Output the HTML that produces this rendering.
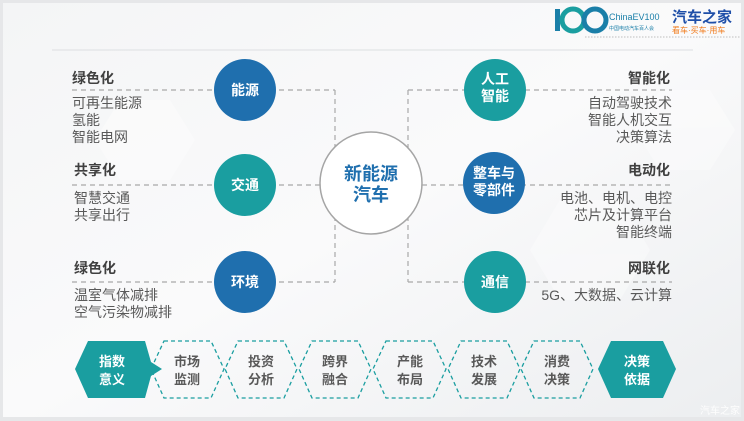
<!DOCTYPE html>
<html><head><meta charset="utf-8"><style>
body{margin:0;width:744px;height:421px;overflow:hidden;background:#fff}
svg{display:block}
text{font-family:"Liberation Sans","Noto Sans CJK SC",sans-serif}
</style></head><body>
<svg width="744" height="421" viewBox="0 0 744 421" xmlns="http://www.w3.org/2000/svg">
<defs>
<linearGradient id="bg" x1="0" y1="0" x2="1" y2="1">
<stop offset="0" stop-color="#f4f5f6"/><stop offset="0.5" stop-color="#fafafb"/><stop offset="1" stop-color="#eceef0"/>
</linearGradient>
</defs>
<rect x="0" y="0" width="744" height="421" fill="#e6e7e9"/>
<rect x="3" y="3" width="738" height="414" fill="url(#bg)"/>
<g fill="#ffffff" opacity="0.35">
<polygon points="120,100 170,100 195,140 170,180 120,180 95,140"/>
<polygon points="560,200 620,200 650,250 620,300 560,300 530,250"/>
<polygon points="660,90 710,90 735,130 710,170 660,170 635,130"/>
</g>
<!-- logo -->
<rect x="555" y="9" width="5" height="22" fill="#1a7fa8"/>
<circle cx="573" cy="20" r="11" fill="none" stroke="#1a9ea0" stroke-width="5"/>
<circle cx="595" cy="20" r="11" fill="none" stroke="#1a7fa8" stroke-width="5"/>
<text x="609" y="20" font-size="9" fill="#1a7fa8">ChinaEV100</text>
<text x="609" y="30" font-size="5" fill="#1a7fa8">中国电动汽车百人会</text>
<text x="672" y="22" font-size="15" font-weight="bold" fill="#1f4fa8">汽车之家</text>
<text x="672" y="33" font-size="8" fill="#f07a1a">看车·买车·用车</text>
<line x1="585" y1="37" x2="740" y2="37" stroke="#aaa" stroke-width="0.8" stroke-dasharray="1.5,1.5"/>
<line x1="52" y1="50" x2="693" y2="50" stroke="#e2e4e6" stroke-width="1.2"/>
<g stroke="#a9a9a9" stroke-width="1.2" stroke-dasharray="5,4" fill="none">
<line x1="72" y1="90" x2="335" y2="90"/>
<line x1="72" y1="185" x2="320" y2="185"/>
<line x1="72" y1="282" x2="335" y2="282"/>
<line x1="335" y1="90" x2="335" y2="282"/>
<line x1="408" y1="90" x2="672" y2="90"/>
<line x1="422" y1="185" x2="672" y2="185"/>
<line x1="408" y1="282" x2="672" y2="282"/>
<line x1="408" y1="90" x2="408" y2="282"/>
</g>
<circle cx="371" cy="183" r="51" fill="#fff" stroke="#a5a5a5" stroke-width="1.5"/>
<text x="371" y="180" font-size="18" font-weight="bold" fill="#1f6fae" text-anchor="middle">新能源</text>
<text x="371" y="201" font-size="18" font-weight="bold" fill="#1f6fae" text-anchor="middle">汽车</text>
<g font-size="14" font-weight="bold" fill="#fff" text-anchor="middle">
<circle cx="245" cy="90" r="31" fill="#1f6fae"/><text x="245" y="95" fill="#fff">能源</text>
<circle cx="245" cy="185" r="31" fill="#1a9ea0"/><text x="245" y="190" fill="#fff">交通</text>
<circle cx="245" cy="282" r="31" fill="#1f6fae"/><text x="245" y="287" fill="#fff">环境</text>
<circle cx="495" cy="90" r="31" fill="#1a9ea0"/><text x="495" y="84" fill="#fff">人工</text><text x="495" y="101" fill="#fff">智能</text>
<circle cx="494" cy="183" r="31" fill="#1f6fae"/><text x="494" y="178" fill="#fff">整车与</text><text x="494" y="195" fill="#fff">零部件</text>
<circle cx="495" cy="282" r="31" fill="#1a9ea0"/><text x="495" y="287" fill="#fff">通信</text>
</g>
<g font-size="14" fill="#595959">
<text x="72" y="83" font-weight="bold" fill="#404040">绿色化</text>
<text x="72" y="108">可再生能源</text><text x="72" y="125">氢能</text><text x="72" y="142">智能电网</text>
<text x="74" y="175" font-weight="bold" fill="#404040">共享化</text>
<text x="74" y="203">智慧交通</text><text x="74" y="220">共享出行</text>
<text x="74" y="273" font-weight="bold" fill="#404040">绿色化</text>
<text x="74" y="300">温室气体减排</text><text x="74" y="317">空气污染物减排</text>
</g>
<g font-size="14" fill="#595959" text-anchor="end">
<text x="670" y="83" font-weight="bold" fill="#404040">智能化</text>
<text x="672" y="108">自动驾驶技术</text><text x="672" y="125">智能人机交互</text><text x="672" y="142">决策算法</text>
<text x="670" y="175" font-weight="bold" fill="#404040">电动化</text>
<text x="672" y="203">电池、电机、电控</text><text x="672" y="220">芯片及计算平台</text><text x="672" y="237">智能终端</text>
<text x="670" y="273" font-weight="bold" fill="#404040">网联化</text>
<text x="672" y="300">5G、大数据、云计算</text>
</g>
<polygon points="88,341 145,341 151,362 162,369 151,376 145,398 88,398 75,369" fill="#1a9ea0"/>
<text x="112" y="366" font-size="13" font-weight="bold" fill="#fff" text-anchor="middle">指数</text>
<text x="112" y="384" font-size="13" font-weight="bold" fill="#fff" text-anchor="middle">意义</text>
<g fill="none" stroke="#1a9ea0" stroke-width="1.3" stroke-dasharray="4,3">
<polygon points="164,341 211,341 224,369 211,398 164,398 151,369"/>
<polygon points="238,341 284,341 297,369 284,398 238,398 225,369"/>
<polygon points="312,341 358,341 371,369 358,398 312,398 299,369"/>
<polygon points="386,341 433,341 446,369 433,398 386,398 373,369"/>
<polygon points="461,341 507,341 520,369 507,398 461,398 448,369"/>
<polygon points="534,341 580,341 593,369 580,398 534,398 521,369"/>
</g>
<polygon points="611,341 663,341 676,369 663,398 611,398 598,369" fill="#1a9ea0"/>
<g font-size="13" font-weight="bold" fill="#595959" text-anchor="middle">
<text x="187" y="366">市场</text><text x="187" y="384">监测</text>
<text x="261" y="366">投资</text><text x="261" y="384">分析</text>
<text x="335" y="366">跨界</text><text x="335" y="384">融合</text>
<text x="410" y="366">产能</text><text x="410" y="384">布局</text>
<text x="484" y="366">技术</text><text x="484" y="384">发展</text>
<text x="557" y="366">消费</text><text x="557" y="384">决策</text>
<text x="637" y="366" fill="#fff">决策</text><text x="637" y="384" fill="#fff">依据</text>
</g>
<text x="740" y="414" font-size="10" fill="#fff" text-anchor="end" opacity="0.9">汽车之家</text>
</svg>
</body></html>
